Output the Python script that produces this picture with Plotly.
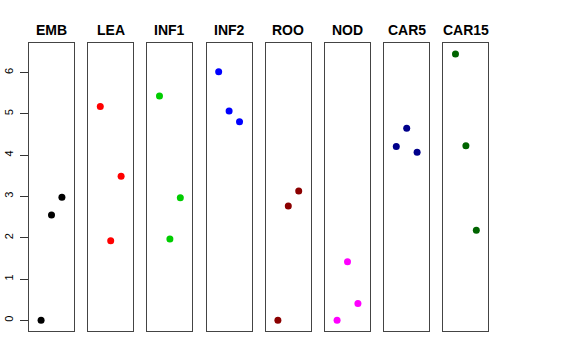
import plotly.graph_objects as go

categories = ["EMB", "LEA", "INF1", "INF2", "ROO", "NOD", "CAR5", "CAR15"]
replicates = [1, 2, 3]
values = {
    "EMB":   [0.00, 2.55, 2.98],
    "LEA":   [5.18, 1.93, 3.49],
    "INF1":  [5.43, 1.97, 2.97],
    "INF2":  [6.02, 5.07, 4.81],
    "ROO":   [0.00, 2.77, 3.13],
    "NOD":   [0.00, 1.42, 0.41],
    "CAR5":  [4.21, 4.65, 4.07],
    "CAR15": [6.45, 4.23, 2.18],
}
colors = ["#000000", "#FF0000", "#00CD00", "#0000FF", "#8B0000", "#FF00FF", "#00008B", "#006400"]
y_ticks = [0, 1, 2, 3, 4, 5, 6]

W, H = 576, 360
left0 = 29.0
step = 59.2
pw = 45.0
y_top = 43.3
y_bot = 331.0

ymin, ymax = 0.0, max(max(v) for v in values.values())
pad = (ymax - ymin) * 0.04
yr = [ymin - pad, ymax + pad]
xr = [-0.16, 4.16]

fig = go.Figure()
layout = dict(
    width=W, height=H, margin=dict(l=0, r=0, t=0, b=0, autoexpand=False),
    paper_bgcolor="white", plot_bgcolor="white", showlegend=False,
    font=dict(family="Liberation Sans, Arial, sans-serif", color="black"),
)
annotations = []
for i, cat in enumerate(categories):
    k = "" if i == 0 else str(i + 1)
    x0 = (left0 + i * step) / W
    x1 = (left0 + i * step + pw) / W
    fig.add_trace(go.Scatter(
        x=replicates, y=values[cat], mode="markers",
        marker=dict(color=colors[i], size=7, line=dict(width=0)),
        xaxis="x" + k, yaxis="y" + k, hoverinfo="x+y",
    ))
    layout["xaxis" + k] = dict(
        domain=[x0, x1], range=xr, showgrid=False, zeroline=False,
        showticklabels=False, ticks="", showline=True, mirror=True,
        linecolor="#444444", linewidth=1, anchor="y" + k, fixedrange=True,
        automargin=False,
    )
    ya = dict(
        domain=[1 - y_bot / H, 1 - y_top / H], range=yr, showgrid=False,
        zeroline=False, showline=True, mirror=True, linecolor="#444444",
        linewidth=1, anchor="x" + k, fixedrange=True, automargin=False,
    )
    if i == 0:
        ya.update(tickmode="array", tickvals=y_ticks, ticktext=[str(t) for t in y_ticks],
                  ticks="outside", ticklen=8, tickcolor="#333333", tickangle=-90,
                  tickfont=dict(size=11, color="black"), ticklabelstandoff=3)
    else:
        ya.update(showticklabels=False, ticks="")
    layout["yaxis" + k] = ya
    annotations.append(dict(
        text="<b>" + cat + "</b>", x=(x0 + x1) / 2, y=1 - 29.5 / H,
        xref="paper", yref="paper", showarrow=False, xanchor="center", yanchor="middle",
        font=dict(size=14, color="black"),
    ))
layout["annotations"] = annotations
fig.update_layout(**layout)
fig.write_html("out.html", config={"displayModeBar": False},
               post_script="document.body.style.margin='0';document.body.style.overflow='hidden';")
